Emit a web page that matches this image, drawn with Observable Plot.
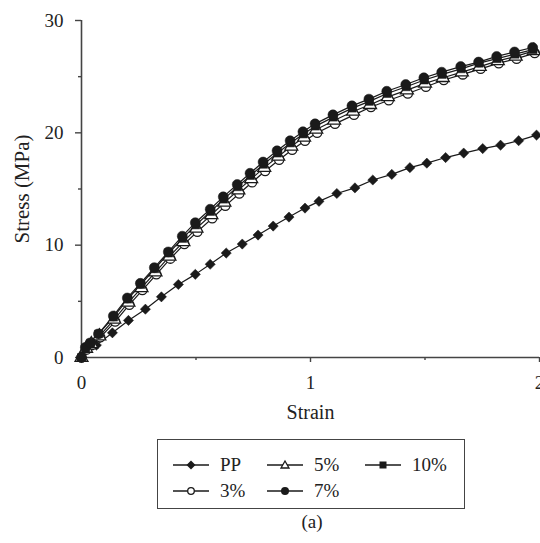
<!DOCTYPE html>
<html>
<head>
<meta charset="utf-8">
<script src="https://cdn.jsdelivr.net/npm/d3@7"></script>
<script src="https://cdn.jsdelivr.net/npm/@observablehq/plot@0.6"></script>
<style>
  body { margin: 0; background: #fff; }
  #wrap { position: relative; width: 540px; height: 543px; overflow: hidden; font-family: "Liberation Serif", "DejaVu Serif", "Times New Roman", Times, serif; color: #222; }
  #legend { position: absolute; left: 157px; top: 439px; width: 306px; height: 68px; border: 1.5px solid #444; }
  .item { position: absolute; display: flex; align-items: center; font-size: 19px; line-height: 19px; }
  .item svg { margin-right: 11px; }
  #caption { position: absolute; left: 0; width: 624px; top: 511px; text-align: center; font-size: 19px; }
</style>
</head>
<body>
<div id="wrap"><div id="chart"></div><div id="legend"></div><div id="caption">(a)</div></div>
<script>
// ---- data (strain, stress in MPa) ----
const seriesNames = ["PP", "3%", "5%", "7%", "10%"];

const ppStrain = [0,0.065,0.135,0.205,0.279,0.349,0.423,0.497,0.562,0.632,0.702,0.771,0.837,0.906,0.976,1.037,1.115,1.194,1.272,1.355,1.434,1.508,1.590,1.669,1.752,1.830,1.909,1.987];
const ppStress = [0,1.1,2.2,3.3,4.3,5.4,6.5,7.4,8.3,9.3,10.1,10.9,11.7,12.5,13.3,13.9,14.6,15.1,15.8,16.3,16.9,17.3,17.8,18.2,18.6,18.9,19.3,19.8];

const p3Strain = [0,0.022,0.046,0.082,0.147,0.209,0.266,0.327,0.388,0.449,0.506,0.571,0.628,0.689,0.745,0.802,0.863,0.920,0.976,1.029,1.107,1.190,1.264,1.342,1.425,1.504,1.582,1.665,1.743,1.822,1.900,1.979];
const p3Stress = [0,0.7,1.1,1.8,3.2,4.7,6.0,7.4,8.8,10.1,11.2,12.4,13.5,14.6,15.6,16.6,17.6,18.5,19.3,20.0,20.8,21.6,22.3,22.9,23.5,24.1,24.7,25.2,25.7,26.2,26.6,27.1];

const p5Strain = [0,0.020,0.043,0.078,0.143,0.205,0.262,0.323,0.384,0.445,0.502,0.567,0.624,0.685,0.741,0.798,0.859,0.916,0.972,1.025,1.103,1.186,1.260,1.338,1.421,1.500,1.578,1.661,1.739,1.818,1.896,1.975];
const p5Stress = [0,0.8,1.2,1.9,3.4,4.9,6.2,7.6,9.0,10.3,11.5,12.7,13.8,14.9,15.9,16.9,17.9,18.8,19.6,20.3,21.1,21.9,22.5,23.2,23.8,24.4,24.9,25.4,25.9,26.4,26.8,27.3];

const p7Strain = [0,0.017,0.039,0.074,0.139,0.200,0.257,0.318,0.379,0.440,0.497,0.562,0.619,0.680,0.736,0.793,0.854,0.911,0.967,1.020,1.098,1.181,1.255,1.333,1.416,1.495,1.573,1.656,1.734,1.813,1.891,1.970];
const p7Stress = [0,0.9,1.3,2.1,3.7,5.3,6.6,8.0,9.4,10.8,12.0,13.2,14.3,15.4,16.4,17.4,18.4,19.3,20.1,20.8,21.6,22.4,23.0,23.7,24.3,24.9,25.4,25.9,26.3,26.8,27.2,27.6];

const p10Strain = [0,0.018,0.040,0.075,0.140,0.202,0.259,0.320,0.381,0.442,0.499,0.564,0.621,0.682,0.738,0.795,0.856,0.913,0.969,1.022,1.100,1.183,1.257,1.335,1.418,1.497,1.575,1.658,1.736,1.815,1.893,1.972];
const p10Stress = [0,0.8,1.3,2.1,3.6,5.2,6.5,7.9,9.3,10.6,11.8,13.0,14.1,15.2,16.2,17.2,18.2,19.1,19.9,20.6,21.4,22.2,22.8,23.5,24.1,24.7,25.2,25.7,26.2,26.6,27.0,27.4];

const yMajorTicks = [0, 10, 20, 30];
const yMinorTicks = [5, 15, 25];
const xMajorTicks = [0, 1, 2];
const xMinorTicks = [0.5, 1.5];

// ---- build table ----
function rows(name, xs, ys) { return xs.map((x, i) => ({series: name, strain: x, stress: ys[i]})); }
const dPP = rows("PP", ppStrain, ppStress);
const d3p = rows("3%", p3Strain, p3Stress);
const d5p = rows("5%", p5Strain, p5Stress);
const d7p = rows("7%", p7Strain, p7Stress);
const d10p = rows("10%", p10Strain, p10Stress);

const ink = "#1a1a1a";
const serif = "Liberation Serif, DejaVu Serif, Times New Roman, Times, serif";
const lineOpts = {x: "strain", y: "stress", stroke: ink, strokeWidth: 1.2};

const chart = Plot.plot({
  width: 540, height: 430,
  marginLeft: 81, marginRight: 1, marginTop: 20, marginBottom: 73,
  x: {domain: [0, 2]},
  y: {domain: [0, 30]},
  style: {fontFamily: serif, fontSize: "19px", color: "#222", background: "white"},
  marks: [
    Plot.axisY({ticks: yMajorTicks, tickSize: 6, tickPadding: 12, label: null, fontSize: 19, stroke: "#444", strokeWidth: 1.4, tickFormat: d => d}),
    Plot.axisY({ticks: yMinorTicks, tickSize: 3, label: null, stroke: "#444", strokeWidth: 1.4, tickFormat: () => ""}),
    Plot.axisX({ticks: xMajorTicks, tickSize: 5, tickPadding: 13, label: null, fontSize: 19, stroke: "#444", strokeWidth: 1.4, tickFormat: d => d}),
    Plot.axisX({ticks: xMinorTicks, tickSize: 3, label: null, stroke: "#444", strokeWidth: 1.4, tickFormat: () => ""}),
    Plot.ruleX([0], {stroke: "#444", strokeWidth: 1.6}),
    Plot.ruleY([0], {stroke: "#444", strokeWidth: 1.6}),
    Plot.line(dPP, lineOpts),
    Plot.line(d3p, lineOpts),
    Plot.line(d5p, lineOpts),
    Plot.line(d10p, lineOpts),
    Plot.line(d7p, lineOpts),
    Plot.dot(dPP, {x: "strain", y: "stress", symbol: "diamond2", r: 4.6, fill: ink, stroke: ink, strokeWidth: 0.5}),
    Plot.dot(d3p, {x: "strain", y: "stress", symbol: "circle", r: 4.6, fill: "white", stroke: ink, strokeWidth: 1.3}),
    Plot.dot(d5p, {x: "strain", y: "stress", symbol: "triangle", r: 4.8, fill: "white", stroke: ink, strokeWidth: 1.3}),
    Plot.dot(d10p, {x: "strain", y: "stress", symbol: "square", r: 4.5, fill: ink, stroke: ink, strokeWidth: 0.5}),
    Plot.dot(d7p, {x: "strain", y: "stress", symbol: "circle", r: 5, fill: ink, stroke: ink, strokeWidth: 0.5}),
    Plot.text(["Stress (MPa)"], {frameAnchor: "left", textAnchor: "middle", lineAnchor: "middle", dx: -59, rotate: -90, fontSize: 21, fill: "#222"}),
    Plot.text(["Strain"], {frameAnchor: "bottom", textAnchor: "middle", lineAnchor: "middle", dy: 55, fontSize: 20, fill: "#222"})
  ]
});
document.getElementById("chart").appendChild(chart);

// ---- legend ----
const legendItems = [
  {name: "PP", sym: "diamond", left: 15, top: 15},
  {name: "5%", sym: "triangle", left: 109, top: 15},
  {name: "10%", sym: "square", left: 207, top: 15},
  {name: "3%", sym: "circle-open", left: 15, top: 41},
  {name: "7%", sym: "circle", left: 109, top: 41}
];
function symbolSvg(sym) {
  let m = "";
  if (sym === "diamond") m = `<path d="M18,4.5 L22.5,9 L18,13.5 L13.5,9 Z" fill="${ink}"/>`;
  if (sym === "triangle") m = `<path d="M18,5 L22,12 L14,12 Z" fill="white" stroke="${ink}" stroke-width="1.3"/>`;
  if (sym === "square") m = `<rect x="14.5" y="5.5" width="7" height="7" fill="${ink}"/>`;
  if (sym === "circle-open") m = `<circle cx="18" cy="9" r="3.3" fill="white" stroke="${ink}" stroke-width="1.3"/>`;
  if (sym === "circle") m = `<circle cx="18" cy="9" r="4" fill="${ink}"/>`;
  return `<svg width="36" height="18" viewBox="0 0 36 18"><line x1="0" y1="9" x2="36" y2="9" stroke="${ink}" stroke-width="1.3"/>${m}</svg>`;
}
const legend = document.getElementById("legend");
for (const it of legendItems) {
  const div = document.createElement("div");
  div.className = "item";
  div.style.left = it.left + "px";
  div.style.top = it.top + "px";
  div.innerHTML = symbolSvg(it.sym) + `<span>${it.name}</span>`;
  legend.appendChild(div);
}
</script>
</body>
</html>
